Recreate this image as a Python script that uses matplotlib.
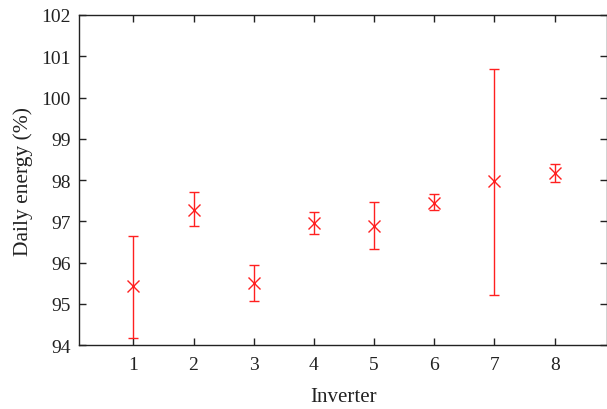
import numpy as np
import matplotlib.pyplot as plt

plt.rcParams['font.family'] = ['Liberation Serif', 'DejaVu Serif']

# values
inverter = [1, 2, 3, 4, 5, 6, 7, 8]
energy = [95.42, 97.28, 95.50, 96.97, 96.88, 97.45, 97.98, 98.17]
lower = [94.18, 96.88, 95.07, 96.70, 96.32, 97.28, 95.22, 97.95]
upper = [96.65, 97.72, 95.95, 97.22, 97.47, 97.65, 100.70, 98.40]

yerr = np.array([np.subtract(energy, lower), np.subtract(upper, energy)])

fig = plt.figure(figsize=(6.07, 4.10), dpi=100)
ax = fig.add_axes([0.1305, 0.156, 0.8695, 0.805])

ax.errorbar(inverter, energy, yerr=yerr, fmt='x', color='#ff2020',
            ecolor='#ff2020', elinewidth=1.0, capsize=3.3, capthick=1.0,
            markersize=8, markeredgewidth=1.0)

ax.set_xlim(0.1, 8.87)
ax.set_ylim(94, 102)
ax.set_xticks(inverter)
ax.set_yticks(range(94, 103))

for s in ax.spines.values():
    s.set_linewidth(1.0)
    s.set_color('#222222')

ax.tick_params(direction='in', top=True, right=True, length=5, width=1.0,
               labelsize=14, colors='#222222', pad=8)
ax.tick_params(axis='y', pad=6)

ax.set_xlabel('Inverter', fontsize=15, labelpad=10, color='#222222')
ax.set_ylabel('Daily energy (%)', fontsize=15.5, labelpad=6, color='#222222')

plt.savefig('out.png', dpi=100)
